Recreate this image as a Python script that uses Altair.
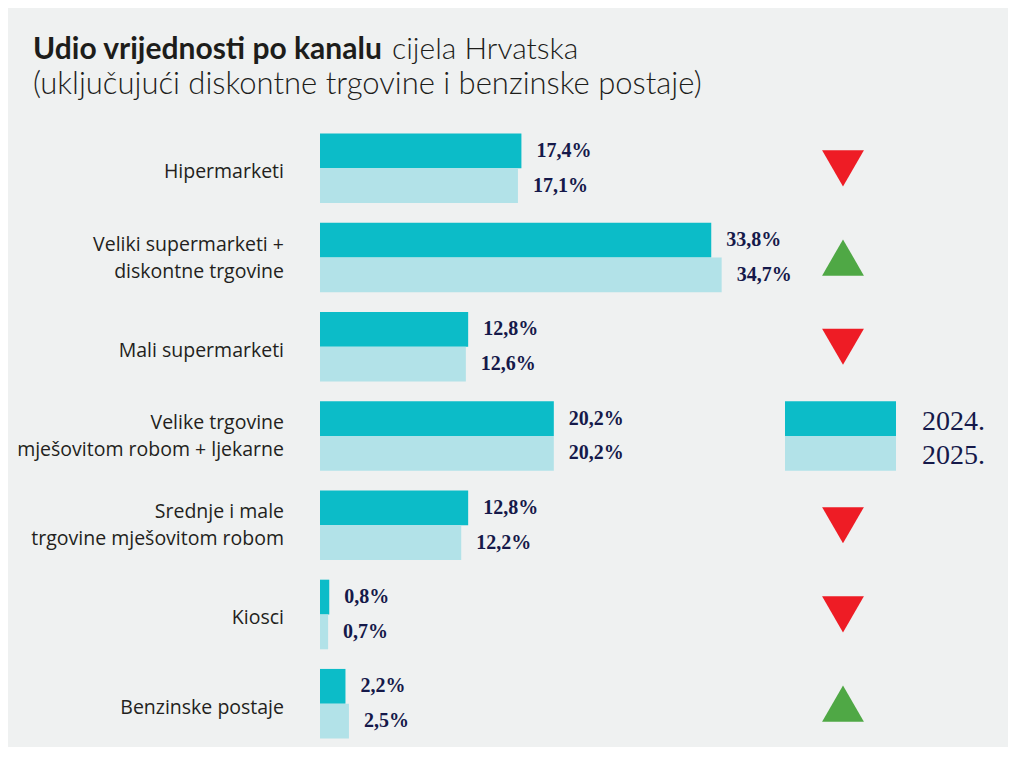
import altair as alt
import pandas as pd

# ---- data ----
categories = [
    "Hipermarketi",
    "Veliki supermarketi +|diskontne trgovine",
    "Mali supermarketi",
    "Velike trgovine|mješovitom robom + ljekarne",
    "Srednje i male|trgovine mješovitom robom",
    "Kiosci",
    "Benzinske postaje",
]
share_2024 = [17.4, 33.8, 12.8, 20.2, 12.8, 0.8, 2.2]
share_2025 = [17.1, 34.7, 12.6, 20.2, 12.2, 0.7, 2.5]
years = ["2024.", "2025."]
legend_category = categories[3]

title_bold = "Udio vrijednosti po kanalu"
title_light = "cijela Hrvatska"
title_line2 = "(uključujući diskontne trgovine i benzinske postaje)"

C_2024 = "#0cbcc8"
C_2025 = "#b2e2e8"
NAVY = "#15194a"
BG = "#eff1f1"
LABEL_FONT = "Open Sans"

rows = []
for c, a, b in zip(categories, share_2024, share_2025):
    for y, v in zip(years, (a, b)):
        rows.append({"cat": c, "year": y, "val": v,
                     "label": f"{v:.1f}%".replace(".", ",")})
df = pd.DataFrame(rows)

trend = pd.DataFrame([
    {"cat": c, "dir": "up" if b > a else "down"}
    for c, a, b in zip(categories, share_2024, share_2025) if b != a
])
legend_df = df[df["cat"] == legend_category].copy()
cat_df = pd.DataFrame({"cat": categories})

y_enc = alt.Y("cat:N", sort=categories,
              scale=alt.Scale(paddingInner=0.22, paddingOuter=0.05),
              axis=None)
y_plain = alt.Y("cat:N", sort=categories)
yoff = alt.YOffset("year:N", sort=years, scale=alt.Scale(paddingInner=0, paddingOuter=0))
color = alt.Color("year:N", sort=years,
                  scale=alt.Scale(domain=years, range=[C_2024, C_2025]), legend=None)
x_enc = alt.X("val:Q", scale=alt.Scale(domain=[0, 58.4]), axis=None)

base = alt.Chart(df)
bars = base.mark_bar().encode(x=x_enc, y=y_enc, yOffset=yoff, color=color)
labels = base.mark_text(align="left", baseline="middle", dx=15,
                        font="Liberation Serif", fontWeight="bold",
                        fontSize=20, color=NAVY).encode(
    x=x_enc, y=y_enc, yOffset=yoff, text="label:N")

# category labels (one- and two-line)
cat_base = alt.Chart(cat_df).transform_calculate(
    lines="split(datum.cat, '|')", n="length(split(datum.cat, '|'))")
cat_one = cat_base.transform_filter("datum.n == 1").mark_text(
    align="right", baseline="middle", dy=4, font=LABEL_FONT, fontSize=19.5,
    color="#231f20").encode(x=alt.value(-36), y=y_plain, text="lines:N")
cat_two = cat_base.transform_filter("datum.n == 2").mark_text(
    align="right", baseline="middle", dy=-13, lineHeight=27, font=LABEL_FONT,
    fontSize=19.5, color="#231f20").encode(x=alt.value(-36), y=y_plain, text="lines:N")

tri = alt.Chart(trend).mark_point(filled=True, opacity=1, size=1750).encode(
    x=alt.value(523),
    y=y_plain,
    shape=alt.Shape("dir:N", scale=alt.Scale(domain=["down", "up"],
                    range=["triangle-down", "triangle-up"]), legend=None),
    fill=alt.Fill("dir:N", scale=alt.Scale(domain=["down", "up"],
                  range=["#ee1c25", "#4fa845"]), legend=None),
)

leg_rect = alt.Chart(legend_df).mark_rect().encode(
    x=alt.value(465), x2=alt.value(576),
    y=y_plain, yOffset=yoff, color=color)
leg_text = alt.Chart(legend_df).mark_text(
    align="left", baseline="middle", dy=3, font="Liberation Serif",
    fontSize=28, color=NAVY).encode(
    x=alt.value(602), y=y_plain, yOffset=yoff, text="year:N")

t1 = alt.Chart(pd.DataFrame({"t": [title_bold]})).mark_text(
    align="left", baseline="alphabetic", font="Lato", fontWeight="bold",
    fontSize=30, color="#1d1d1b").encode(
    x=alt.value(-287), y=alt.value(-70), text="t:N")
t2 = alt.Chart(pd.DataFrame({"t": [title_light]})).mark_text(
    align="left", baseline="alphabetic", font="Lato", fontWeight=300,
    fontSize=30, color="#1d1d1b").encode(
    x=alt.value(72), y=alt.value(-70), text="t:N")
t3 = alt.Chart(pd.DataFrame({"t": [title_line2]})).mark_text(
    align="left", baseline="alphabetic", font="Lato", fontWeight=300,
    fontSize=31, color="#1d1d1b").encode(
    x=alt.value(-287), y=alt.value(-35), text="t:N")

chart = alt.layer(bars, labels, cat_one, cat_two, tri, leg_rect, leg_text,
                  t1, t2, t3).properties(
    width=676, height=614,
    padding={"left": 312, "top": 121, "right": 12, "bottom": 4},
    autosize=alt.AutoSizeParams(type="none"),
    background=BG,
).configure_view(stroke=None)

chart.save("out.html", embed_options={"renderer": "svg", "actions": False})
